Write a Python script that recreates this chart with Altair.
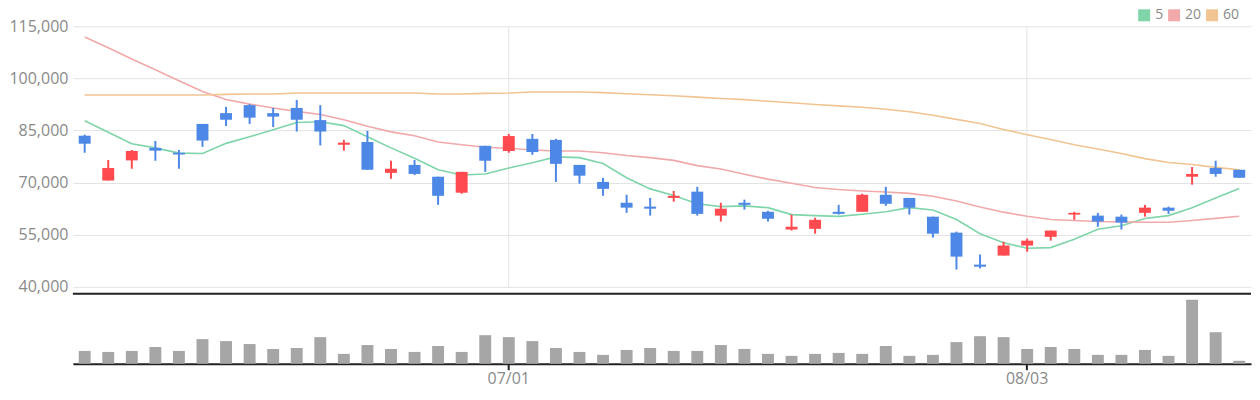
import altair as alt
import pandas as pd

# ---------------- data ----------------
dates = ["06/05", "06/08", "06/09", "06/10", "06/11", "06/12", "06/15", "06/16", "06/17", "06/18",
         "06/19", "06/22", "06/23", "06/24", "06/25", "06/26", "06/29", "06/30", "07/01", "07/02",
         "07/06", "07/07", "07/08", "07/09", "07/10", "07/13", "07/14", "07/15", "07/16", "07/17",
         "07/20", "07/21", "07/22", "07/23", "07/24", "07/27", "07/28", "07/29", "07/30", "07/31",
         "08/03", "08/04", "08/05", "08/06", "08/07", "08/10", "08/11", "08/12", "08/13", "08/14"]

opens = [83500, 70600, 76400, 80000, 78600, 86900, 90000, 92300, 90000, 91500,
         88000, 80900, 81700, 72800, 75100, 71700, 67100, 80600, 79100, 82600,
         82300, 75100, 70200, 64200, 63100, 65600, 67400, 60500, 64200, 61600,
         56500, 56700, 61600, 61600, 66500, 65600, 60200, 55600, 46400, 49000,
         51900, 54400, 60800, 60500, 60200, 61300, 62800, 71700, 74200, 73700]
highs = [83800, 76500, 79400, 82000, 79400, 86900, 91800, 92600, 91500, 93800,
         92300, 82300, 84900, 76300, 76500, 71700, 73100, 80600, 84000, 84000,
         82600, 75100, 71400, 66500, 65600, 67600, 68800, 64200, 65100, 61900,
         60800, 59900, 63600, 66800, 68800, 65600, 60200, 55900, 49300, 53000,
         53900, 56200, 61600, 61300, 60800, 63600, 63100, 74500, 76300, 73700]
lows = [78600, 70600, 74000, 76300, 74000, 80300, 86300, 86900, 86000, 84700,
        80700, 79200, 73700, 71100, 72200, 63600, 66800, 73100, 78600, 78000,
        70200, 69700, 66200, 61300, 60500, 64500, 60500, 58800, 62200, 58800,
        56200, 55300, 60800, 61600, 63300, 60800, 54200, 45000, 45300, 49000,
        50100, 53300, 59300, 57300, 56500, 60200, 61000, 69400, 71700, 71400]
closes = [81200, 74200, 79100, 79200, 78100, 82100, 88100, 88700, 89000, 88100,
          84700, 81500, 73700, 74000, 72500, 66200, 73100, 76300, 83400, 78800,
          75400, 72000, 68200, 62800, 62500, 66200, 61000, 62500, 63600, 59600,
          57300, 59300, 61000, 66500, 63900, 62800, 55300, 48700, 45800, 51900,
          53300, 56200, 61300, 58800, 58500, 62800, 61900, 72500, 72500, 71400]
volumes = [650000, 600000, 650000, 850000, 650000, 1250000, 1150000, 1000000, 750000, 800000,
           1350000, 500000, 950000, 750000, 600000, 900000, 600000, 1450000, 1350000, 1150000,
           800000, 600000, 450000, 700000, 800000, 650000, 650000, 950000, 750000, 500000,
           400000, 500000, 550000, 500000, 900000, 400000, 450000, 1100000, 1400000, 1350000,
           750000, 850000, 750000, 450000, 450000, 700000, 400000, 3250000, 1600000, 150000]

ma5 = [87800, 84500, 81200, 80000, 78500, 78400, 81300, 83200, 85200, 87300,
       87500, 86400, 83200, 80000, 77000, 73700, 72200, 72500, 74200, 75700,
       77400, 77200, 75500, 71400, 68200, 66300, 63900, 63100, 63300, 62800,
       60800, 60500, 60300, 60900, 61600, 62800, 62100, 59400, 55300, 52700,
       51100, 51300, 53700, 56600, 57600, 59700, 60500, 62800, 65600, 68300]
ma20 = [111900, 108800, 105600, 102500, 99300, 96200, 93900, 92600, 91500, 90500,
        89600, 88100, 86200, 84600, 83500, 81700, 80900, 80200, 79900, 79400,
        79100, 79100, 78600, 77800, 77200, 76400, 74900, 73900, 72400, 71000,
        69800, 68600, 68000, 67600, 67300, 66900, 66100, 64700, 63000, 61500,
        60300, 59400, 59100, 58800, 58700, 58600, 58600, 59100, 59700, 60300]
ma60 = [95200, 95200, 95200, 95200, 95200, 95200, 95400, 95500, 95500, 95800,
        95800, 95800, 95800, 95800, 95800, 95500, 95500, 95700, 95800, 96100,
        96100, 96100, 95900, 95600, 95300, 95000, 94600, 94200, 93900, 93400,
        93000, 92500, 92100, 91700, 91100, 90400, 89400, 88200, 87000, 85300,
        83800, 82400, 80900, 79700, 78400, 76900, 75800, 75200, 74400, 73700]

ma_names = ["5", "20", "60"]
ma_colors = ["#7fd5a9", "#f2a9a9", "#f1c492"]
price_ticks = [40000, 55000, 70000, 85000, 100000, 115000]
date_ticks = ["07/01", "08/03"]

# ---------------- tables ----------------
df = pd.DataFrame({"date": dates, "open": opens, "high": highs, "low": lows,
                   "close": closes, "volume": volumes})
ma_df = pd.DataFrame({
    "date": dates * 3,
    "ma": [ma_names[0]] * len(dates) + [ma_names[1]] * len(dates) + [ma_names[2]] * len(dates),
    "value": ma5 + ma20 + ma60,
})

FONT = "Open Sans"
GRAY = "#8a8a8a"
UP = "#ff4b4f"
DOWN = "#4e88e6"
W = 1180

xscale = alt.Scale(domain=dates, paddingInner=0.494, paddingOuter=0.247)
x_axis_price = alt.Axis(values=date_ticks, labels=False, ticks=False, domain=False,
                        grid=True, gridColor="#e3e3e3", title=None, bandPosition=0.5,
                        minExtent=0, maxExtent=0, offset=0)
yscale = alt.Scale(domain=[40000, 115000], nice=False, zero=False)
y_axis = alt.Axis(values=price_ticks, labelExpr="format(datum.value, ',')", title=None,
                  domain=False, ticks=False, grid=True, gridColor="#e3e3e3",
                  labelFontSize=16, labelColor=GRAY, labelPadding=5, labelFont=FONT)
color_scale = alt.Scale(domain=ma_names, range=ma_colors)


def xenc():
    return alt.X("date:O", scale=xscale, axis=x_axis_price)


def yenc(field):
    return alt.Y(field, scale=yscale, axis=y_axis)


candle_color = alt.condition("datum.close >= datum.open", alt.value(UP), alt.value(DOWN))

legend = alt.Legend(orient="none", legendX=1066, legendY=-18, direction="horizontal",
                    title=None, symbolType="square", symbolSize=144, symbolStrokeWidth=0,
                    symbolOpacity=1, labelFontSize=14, labelColor=GRAY, labelFont=FONT,
                    columnPadding=3, labelOffset=4, padding=0)

lines = alt.Chart(ma_df).mark_line(strokeWidth=1.6).encode(
    x=xenc(), y=yenc("value:Q"),
    color=alt.Color("ma:N", scale=color_scale, legend=None),
)
legend_carrier = alt.Chart(ma_df).mark_square(size=0).encode(
    x=xenc(), y=yenc("value:Q"),
    color=alt.Color("ma:N", scale=color_scale, legend=legend),
)
wicks = alt.Chart(df).mark_rule(strokeWidth=2).encode(
    x=xenc(), y=yenc("low:Q"), y2="high:Q", color=candle_color)
bodies = alt.Chart(df).mark_bar().encode(
    x=xenc(), y=yenc("open:Q"), y2="close:Q", color=candle_color)

price = alt.layer(lines, legend_carrier, wicks, bodies).resolve_legend(
    color="independent").properties(width=W, height=261)

vol_bars = alt.Chart(df).mark_bar(color="#a6a6a6").encode(
    x=alt.X("date:O", scale=xscale,
            axis=alt.Axis(values=date_ticks, labelFontSize=16, labelColor=GRAY, labelFont=FONT,
                          labelAngle=0, ticks=True, tickColor="#222222", tickWidth=2, tickSize=6,
                          domainColor="#222222", domainWidth=2, grid=False, title=None,
                          labelPadding=1, bandPosition=0.5)),
    y=alt.Y("volume:Q", scale=alt.Scale(domain=[0, 3550000], nice=False), axis=None),
)
top_rule = alt.Chart(pd.DataFrame({"k": [0]})).mark_rule(color="#222222", strokeWidth=2).encode(
    y=alt.value(0))
volume = alt.layer(vol_bars, top_rule).properties(width=W, height=70)

chart = alt.vconcat(price, volume, spacing=7, bounds="flush").properties(
    padding={"left": 0, "top": 0, "right": 0, "bottom": 0}
).configure_view(stroke=None)

chart.save("out.html", embed_options={"renderer": "svg", "actions": False})
